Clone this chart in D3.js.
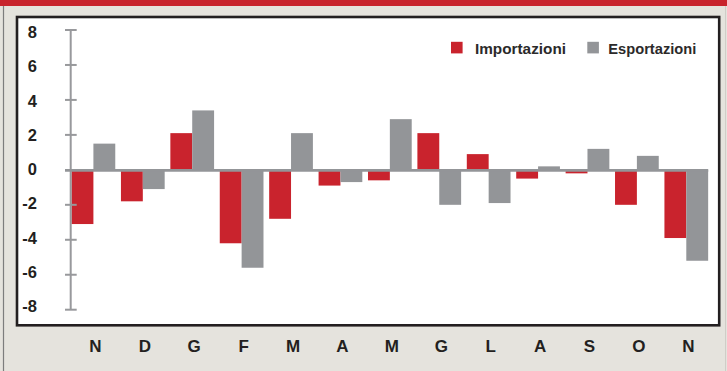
<!DOCTYPE html>
<html>
<head>
<meta charset="utf-8">
<script src="https://cdn.jsdelivr.net/npm/d3@7"></script>
<style>
  html, body { margin: 0; padding: 0; background: #e5e3dd; }
  svg { display: block; }
  text { font-family: "Liberation Sans", Arial, Helvetica, sans-serif; }
</style>
</head>
<body>
<svg id="chart" width="727" height="371"></svg>
<script>
// Monthly change, imports vs exports
const months = ["N", "D", "G", "F", "M", "A", "M", "G", "L", "A", "S", "O", "N"];
const importazioni = [-3.1, -1.8, 2.1, -4.2, -2.8, -0.9, -0.6, 2.1, 0.9, -0.5, -0.2, -2.0, -3.9];
const esportazioni = [1.5, -1.1, 3.4, -5.6, 2.1, -0.7, 2.9, -2.0, -1.9, 0.2, 1.2, 0.8, -5.2];
const yTicks = [8, 6, 4, 2, 0, -2, -4, -6, -8];
const seriesNames = ["Importazioni", "Esportazioni"];

const RED = "#c9232d";
const GREY = "#939598";
const AXIS = "#98999c";
const INK = "#231f20";

const svg = d3.select("#chart");

// page frame: red strip on top, thin rules at the sides
svg.append("rect").attr("x", 0).attr("y", 0).attr("width", 727).attr("height", 6).attr("fill", "#c8232c");
svg.append("line").attr("x1", 3.5).attr("x2", 3.5).attr("y1", 6).attr("y2", 371)
  .attr("stroke", "#7d7d7d").attr("stroke-width", 1.2);
svg.append("line").attr("x1", 725.5).attr("x2", 725.5).attr("y1", 6).attr("y2", 371)
  .attr("stroke", "#cfcdc7").attr("stroke-width", 1);

// white plot box
svg.append("rect")
  .attr("x", 17).attr("y", 17).attr("width", 702.2).attr("height", 308.3)
  .attr("fill", "#ffffff").attr("stroke", INK).attr("stroke-width", 2.6);

const x = d3.scaleBand()
  .domain(d3.range(months.length))
  .range([68.7, 711])
  .paddingInner(0.115)
  .paddingOuter(0.0575);

const xSub = d3.scaleBand()
  .domain(seriesNames)
  .range([0, x.bandwidth()]);

const y = d3.scaleLinear().domain([-8, 8]).range([309.7, 30]);
// tick labels sit on a slightly tighter spacing than the tick marks
const yLab = d3.scaleLinear().domain([-8, 8]).range([306, 32]);

const colors = { "Importazioni": RED, "Esportazioni": GREY };
const data = months.map((m, i) => ({
  i, m,
  vals: [
    { key: "Importazioni", v: importazioni[i] },
    { key: "Esportazioni", v: esportazioni[i] }
  ]
}));

// bars
const groups = svg.append("g").selectAll("g").data(data).join("g")
  .attr("transform", d => `translate(${x(d.i)},0)`);
groups.selectAll("rect").data(d => d.vals).join("rect")
  .attr("x", d => xSub(d.key))
  .attr("width", xSub.bandwidth())
  .attr("y", d => Math.min(y(d.v), y(0)))
  .attr("height", d => Math.abs(y(d.v) - y(0)))
  .attr("fill", d => colors[d.key]);

// y axis: vertical rule with ticks on both sides
const axisX = 70.7;
const ax = svg.append("g");
ax.append("line").attr("x1", axisX).attr("x2", axisX).attr("y1", y(8)).attr("y2", y(-8))
  .attr("stroke", AXIS).attr("stroke-width", 2);
ax.selectAll("line.tick").data(yTicks.filter(t => t !== 0)).join("line")
  .attr("class", "tick")
  .attr("x1", 65).attr("x2", 76.7)
  .attr("y1", d => y(d)).attr("y2", d => y(d))
  .attr("stroke", AXIS).attr("stroke-width", 2);

// zero line across the whole plot
svg.append("line")
  .attr("x1", 65).attr("x2", x.range()[1] - 2.8)
  .attr("y1", y(0) + 0.5).attr("y2", y(0) + 0.5)
  .attr("stroke", GREY).attr("stroke-width", 2.8);

ax.selectAll("text").data(yTicks).join("text")
  .attr("x", 37)
  .attr("y", d => yLab(d) + 6)
  .attr("text-anchor", "end")
  .attr("font-size", 16.5)
  .attr("font-weight", "bold")
  .attr("fill", INK)
  .text(d => d);

// month labels below the box
svg.append("g").selectAll("text").data(data).join("text")
  .attr("x", d => x(d.i) + x.bandwidth() / 2 + 2)
  .attr("y", 351.7)
  .attr("text-anchor", "middle")
  .attr("font-size", 17)
  .attr("font-weight", "bold")
  .attr("fill", INK)
  .text(d => d.m);

// legend
const legendItems = [
  { key: "Importazioni", sx: 451, tx: 475, len: 91 },
  { key: "Esportazioni", sx: 587.3, tx: 608.3, len: 88 }
];
const lg = svg.append("g").selectAll("g").data(legendItems).join("g");
lg.append("rect")
  .attr("x", d => d.sx).attr("y", 41.8)
  .attr("width", 11.6).attr("height", 11.6)
  .attr("fill", d => colors[d.key]);
lg.append("text")
  .attr("x", d => d.tx).attr("y", 54.2)
  .attr("font-size", 15.5)
  .attr("font-weight", "bold")
  .attr("fill", "#2b2a2a")
  .attr("textLength", d => d.len)
  .attr("lengthAdjust", "spacingAndGlyphs")
  .text(d => d.key);
</script>
</body>
</html>
